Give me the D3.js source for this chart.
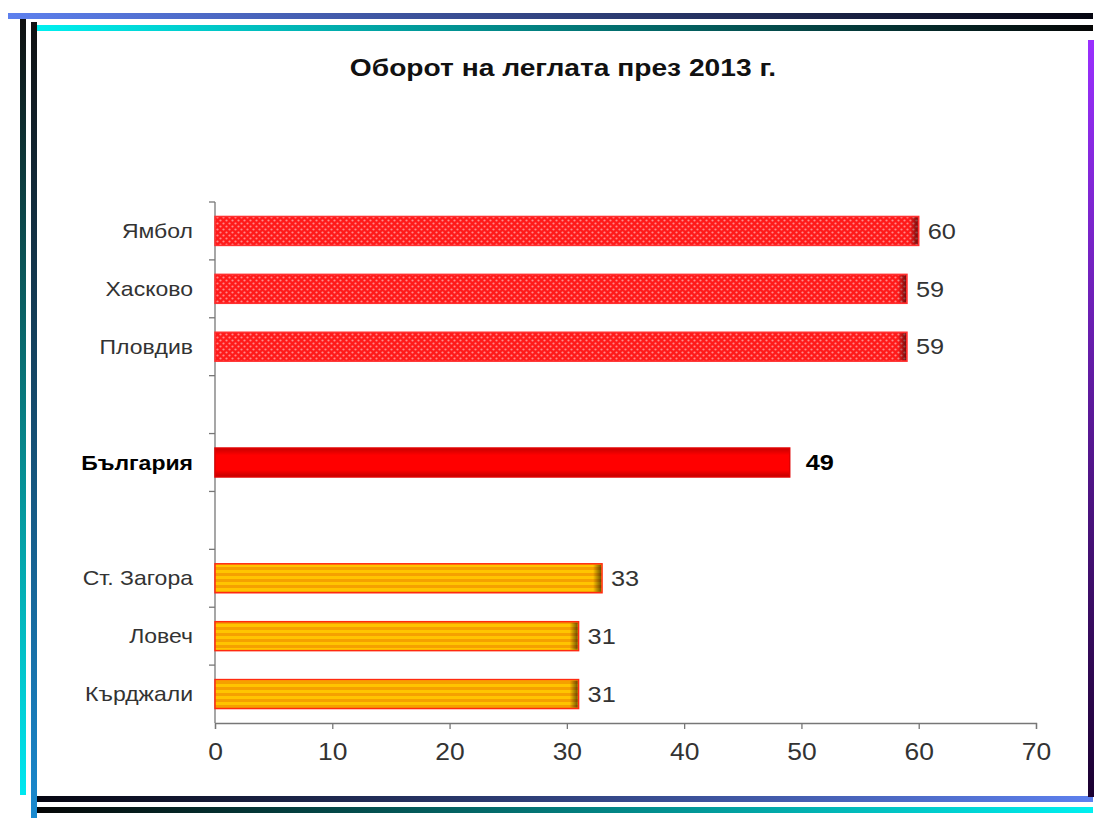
<!DOCTYPE html>
<html>
<head>
<meta charset="utf-8">
<script src="https://cdn.jsdelivr.net/npm/d3@7"></script>
<style>
  body { margin: 0; background: #fff; }
  text { font-family: "Liberation Sans", Arial, sans-serif; }
</style>
</head>
<body>
<div id="chart-area"></div>
<script>
const W = 1098
const H = 818
const SX = 1.15   // the source picture is a bit stretched sideways

// data
const categories = ["Ямбол", "Хасково", "Пловдив", "gap1", "България", "gap2", "Ст. Загора", "Ловеч", "Кърджали"]
const values = [60, 59, 59, null, 49, null, 33, 31, 31]
const groups = ["top", "top", "top", null, "avg", null, "low", "low", "low"]
const xTicks = [0, 10, 20, 30, 40, 50, 60, 70]
const title = "Оборот на леглата през 2013 г."

const data = categories.map((c, i) => ({ cat: c, value: values[i], group: groups[i] }))

const svg = d3.select("#chart-area").append("svg")
  .attr("width", W)
  .attr("height", H)

const defs = svg.append("defs")

// red dotted texture
const pRed = defs.append("pattern")
  .attr("id", "redDots")
  .attr("patternUnits", "userSpaceOnUse")
  .attr("width", 6).attr("height", 6)
pRed.append("rect").attr("width", 6).attr("height", 6).attr("fill", "#ff1a1a")
pRed.append("circle").attr("cx", 1.5).attr("cy", 1.5).attr("r", 1.1).attr("fill", "#ff8a8a")
pRed.append("circle").attr("cx", 4.5).attr("cy", 4.5).attr("r", 1.1).attr("fill", "#ff8a8a")

// orange stripes
const pOr = defs.append("pattern")
  .attr("id", "orStripes")
  .attr("patternUnits", "userSpaceOnUse")
  .attr("width", 6).attr("height", 6)
pOr.append("rect").attr("width", 6).attr("height", 6).attr("fill", "#ffc400")
pOr.append("rect").attr("y", 3).attr("width", 6).attr("height", 3).attr("fill", "#f5a000")

// solid red with dark edges
const gAvg = defs.append("linearGradient")
  .attr("id", "avgGrad").attr("x1", 0).attr("y1", 0).attr("x2", 0).attr("y2", 1)
gAvg.append("stop").attr("offset", "0%").attr("stop-color", "#c80000")
gAvg.append("stop").attr("offset", "25%").attr("stop-color", "#ff0000")
gAvg.append("stop").attr("offset", "75%").attr("stop-color", "#ff0000")
gAvg.append("stop").attr("offset", "100%").attr("stop-color", "#c00000")

// dark right end shading
const gEnd = defs.append("linearGradient")
  .attr("id", "endGrad").attr("x1", 0).attr("y1", 0).attr("x2", 1).attr("y2", 0)
gEnd.append("stop").attr("offset", "0%").attr("stop-color", "#000").attr("stop-opacity", 0)
gEnd.append("stop").attr("offset", "100%").attr("stop-color", "#000").attr("stop-opacity", 0.55)

// frame gradients
function grad(id, horiz, c1, c2) {
  const g = defs.append("linearGradient").attr("id", id)
    .attr("x1", 0).attr("y1", 0).attr("x2", horiz ? 1 : 0).attr("y2", horiz ? 0 : 1)
  g.append("stop").attr("offset", "0%").attr("stop-color", c1)
  g.append("stop").attr("offset", "100%").attr("stop-color", c2)
}
grad("topOuter", true, "#5d80ee", "#050510")
grad("topInner", true, "#00f0f0", "#050505")
grad("botOuter", true, "#050510", "#5d80ee")
grad("botInner", true, "#050505", "#00f0f0")
grad("leftOuter", false, "#101010", "#00e8f0")
grad("leftInner", false, "#101010", "#1a8ad0")
grad("rightV", false, "#9a30ff", "#1a0030")

// frame
svg.append("rect").attr("x", 8).attr("y", 13).attr("width", 1085).attr("height", 6).attr("fill", "url(#topOuter)")
svg.append("rect").attr("x", 35).attr("y", 25).attr("width", 1058).attr("height", 6).attr("fill", "url(#topInner)")
svg.append("rect").attr("x", 35).attr("y", 796).attr("width", 1058).attr("height", 6).attr("fill", "url(#botOuter)")
svg.append("rect").attr("x", 35).attr("y", 807).attr("width", 1058).attr("height", 6).attr("fill", "url(#botInner)")
svg.append("rect").attr("x", 20).attr("y", 19).attr("width", 6).attr("height", 776).attr("fill", "url(#leftOuter)")
svg.append("rect").attr("x", 31).attr("y", 22).attr("width", 6).attr("height", 796).attr("fill", "url(#leftInner)")
svg.append("rect").attr("x", 1088).attr("y", 40).attr("width", 6).attr("height", 757).attr("fill", "url(#rightV)")

// stretched text helper
function place(sel, px, py) {
  return sel.attr("transform", (d, i) => `translate(${px(d, i)},${py(d, i)}) scale(${SX},1)`)
}

// title
place(svg.append("text"), () => 563, () => 76)
  .attr("text-anchor", "middle")
  .style("font-size", "24.5px")
  .style("font-weight", "bold")
  .attr("fill", "#111")
  .text(title)

const x = d3.scaleLinear().domain([0, 70]).range([215, 1036])
const y = d3.scaleBand().domain(categories).range([202, 723]).paddingInner(0.5).paddingOuter(0.25)

// x axis
const xAxis = svg.append("g")
  .attr("transform", "translate(0, 723)")
  .call(d3.axisBottom(x).tickValues(xTicks).tickSize(6))
xAxis.select(".domain").attr("stroke", "#777").attr("stroke-width", 1.3)
xAxis.selectAll(".tick line").attr("stroke", "#777").attr("stroke-width", 1.3)
xAxis.selectAll(".tick text")
  .attr("y", null).attr("dy", null)
  .attr("transform", `translate(0,37) scale(${SX},1)`)
  .style("font-size", "23px")
  .attr("fill", "#333")

// y axis line and boundary ticks
const step = y.step()
const top0 = y(categories[0]) - (step - y.bandwidth()) / 2
const yAxis = svg.append("g")
yAxis.append("line")
  .attr("x1", x(0)).attr("x2", x(0))
  .attr("y1", top0).attr("y2", 723)
  .attr("stroke", "#777").attr("stroke-width", 1.3)
yAxis.selectAll(".btick")
  .data(d3.range(categories.length))
  .enter().append("line")
  .attr("class", "btick")
  .attr("x1", x(0) - 6).attr("x2", x(0))
  .attr("y1", i => top0 + i * step).attr("y2", i => top0 + i * step)
  .attr("stroke", "#777").attr("stroke-width", 1.3)

const bars = data.filter(d => d.value !== null)

// category labels
place(svg.selectAll(".cat")
  .data(bars)
  .enter().append("text")
  .attr("class", "cat"), () => 193, d => y(d.cat) + y.bandwidth() / 2)
  .attr("dy", "0.35em")
  .attr("text-anchor", "end")
  .style("font-size", "20px")
  .style("font-weight", d => d.group === "avg" ? "bold" : "normal")
  .attr("fill", d => d.group === "avg" ? "#000" : "#333")
  .text(d => d.cat)

const fills = { top: "url(#redDots)", avg: "url(#avgGrad)", low: "url(#orStripes)" }
const strokes = { top: "#ff3030", avg: "#e00000", low: "#ff2a10" }

svg.selectAll(".bar")
  .data(bars)
  .enter().append("rect")
  .attr("class", "bar")
  .attr("x", x(0))
  .attr("y", d => y(d.cat))
  .attr("width", d => x(d.value) - x(0))
  .attr("height", y.bandwidth())
  .attr("fill", d => fills[d.group])
  .attr("stroke", d => strokes[d.group])
  .attr("stroke-width", 1.5)

svg.selectAll(".barEnd")
  .data(bars.filter(d => d.group !== "avg"))
  .enter().append("rect")
  .attr("class", "barEnd")
  .attr("x", d => x(d.value) - 9)
  .attr("y", d => y(d.cat) + 1)
  .attr("width", 8)
  .attr("height", y.bandwidth() - 2)
  .attr("fill", "url(#endGrad)")

// value labels
place(svg.selectAll(".val")
  .data(bars)
  .enter().append("text")
  .attr("class", "val"), d => x(d.value) + (d.group === "avg" ? 16 : 9), d => y(d.cat) + y.bandwidth() / 2)
  .attr("dy", "0.35em")
  .style("font-size", "22px")
  .style("font-weight", d => d.group === "avg" ? "bold" : "normal")
  .attr("fill", d => d.group === "avg" ? "#000" : "#333")
  .text(d => d.value)
</script>
</body>
</html>
